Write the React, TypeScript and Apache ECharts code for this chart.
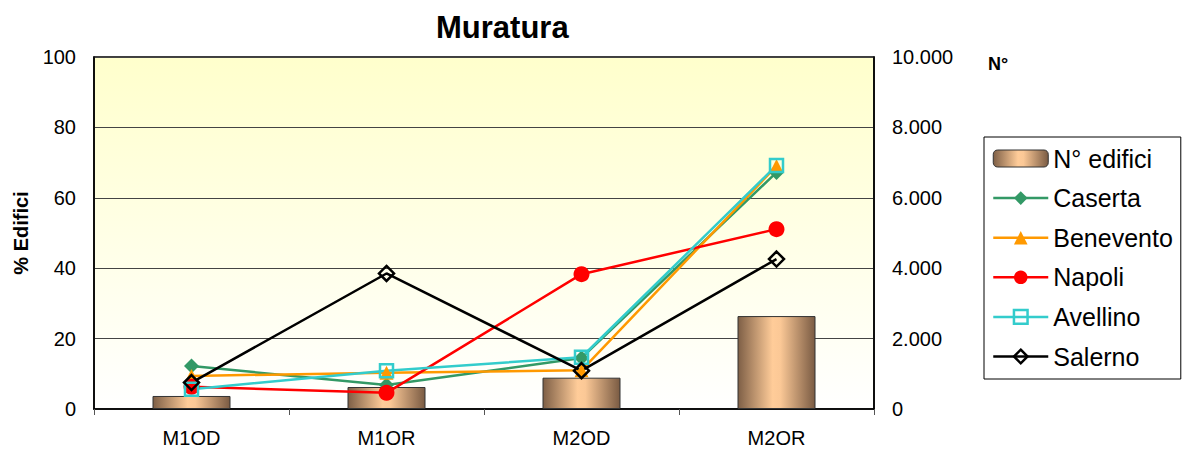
import React, { useEffect, useRef } from "react";
import * as echarts from "echarts";

const categories = ["M1OD", "M1OR", "M2OD", "M2OR"];
const nEdifici = [370, 625, 890, 2640];
const caserta = [12.2, 6.8, 14.5, 67.2];
const benevento = [9.4, 10.3, 11.0, 69.0];
const napoli = [6.3, 4.6, 38.3, 51.1];
const avellino = [5.6, 10.9, 14.7, 69.2];
const salerno = [7.5, 38.5, 10.9, 42.6];
const leftTicks = { min: 0, max: 100, interval: 20 };
const rightTicks = { min: 0, max: 10000, interval: 2000 };

const FONT = "'Liberation Sans', Arial, sans-serif";

function fmtThousands(v: number): string {
  return String(v).replace(/\B(?=(\d{3})+(?!\d))/g, ".");
}

export default function App() {
  const ref = useRef<HTMLDivElement>(null);
  useEffect(() => {
    if (!ref.current) return;
    const chart = echarts.init(ref.current, null, { renderer: "svg" });
    const lineSeries = (
      name: string,
      data: number[],
      color: string,
      symbol: string,
      size: number,
      hollow: boolean
    ) => ({
      name,
      type: "line",
      yAxisIndex: 0,
      data,
      symbol,
      symbolSize: size,
      showAllSymbol: true,
      lineStyle: { color, width: 2.5 },
      itemStyle: hollow
        ? { color: "rgba(255,255,255,0)", borderColor: color, borderWidth: 2.5 }
        : { color, borderColor: color, borderWidth: 0 },
      z: 3,
    });
    chart.setOption({
      animation: false,
      backgroundColor: "#ffffff",
      textStyle: { fontFamily: FONT },
      title: {
        text: "Muratura",
        left: 431,
        top: 7,
        textStyle: { fontFamily: FONT, fontSize: 31, fontWeight: "bold", color: "#000" },
      },
      graphic: [
        {
          type: "text",
          left: 988,
          top: 55,
          style: { text: "N°", font: `bold 18px ${FONT}`, fill: "#000" },
        },
      ],
      grid: {
        left: 94,
        top: 57,
        width: 780,
        height: 352,
        show: true,
        borderColor: "#000",
        borderWidth: 1.5,
        backgroundColor: new echarts.graphic.LinearGradient(0, 0, 0, 1, [
          { offset: 0, color: "#FFFFCC" },
          { offset: 1, color: "#FFFFFF" },
        ]),
      },
      legend: {
        orient: "vertical",
        left: 984,
        top: 137,
        padding: [9, 8, 10, 8],
        itemWidth: 55,
        itemHeight: 17,
        itemGap: 14.6,
        backgroundColor: "#fff",
        borderColor: "#000",
        borderWidth: 1,
        lineStyle: { width: 2.5 },
        itemStyle: { borderWidth: "inherit" },
        textStyle: { fontFamily: FONT, fontSize: 25, color: "#000" },
        data: ["N° edifici", "Caserta", "Benevento", "Napoli", "Avellino", "Salerno"],
      },
      xAxis: {
        type: "category",
        data: categories,
        boundaryGap: true,
        axisLine: { show: true, lineStyle: { color: "#000", width: 1.5 } },
        axisTick: { show: true, length: 6, lineStyle: { color: "#555" } },
        axisLabel: { fontFamily: FONT, fontSize: 20, color: "#000", margin: 19 },
        splitLine: { show: false },
      },
      yAxis: [
        {
          type: "value",
          ...leftTicks,
          name: "% Edifici",
          nameLocation: "middle",
          nameGap: 63,
          nameRotate: 90,
          nameTextStyle: { fontFamily: FONT, fontSize: 20, fontWeight: "bold", color: "#000" },
          axisLine: { show: true, lineStyle: { color: "#000", width: 1.5 } },
          axisTick: { show: false },
          axisLabel: { fontFamily: FONT, fontSize: 20, color: "#000", margin: 18 },
          splitLine: { show: true, lineStyle: { color: "#444", width: 1 } },
        },
        {
          type: "value",
          ...rightTicks,
          position: "right",
          axisLine: { show: true, lineStyle: { color: "#000", width: 1.5 } },
          axisTick: { show: false },
          axisLabel: {
            fontFamily: FONT,
            fontSize: 20,
            color: "#000",
            margin: 18,
            formatter: (v: number) => fmtThousands(v),
          },
          splitLine: { show: false },
        },
      ],
      series: [
        {
          name: "N° edifici",
          type: "bar",
          yAxisIndex: 1,
          data: nEdifici,
          barWidth: "40%",
          itemStyle: {
            color: new echarts.graphic.LinearGradient(0, 0, 1, 0, [
              { offset: 0, color: "#7E5F46" },
              { offset: 0.45, color: "#FFCC99" },
              { offset: 0.55, color: "#FBC896" },
              { offset: 1, color: "#7A5B43" },
            ]),
            borderColor: "#333",
            borderWidth: 1,
          },
          z: 2,
        },
        lineSeries("Caserta", caserta, "#339966", "diamond", 15, false),
        lineSeries("Benevento", benevento, "#FF9900", "triangle", 14, false),
        lineSeries("Napoli", napoli, "#FF0000", "circle", 16, false),
        lineSeries("Avellino", avellino, "#33CCCC", "rect", 13, true),
        lineSeries("Salerno", salerno, "#000000", "diamond", 15, true),
      ],
    });
    return () => chart.dispose();
  }, []);
  return (
    <div
      ref={ref}
      style={{ position: "fixed", left: 0, top: 0, width: 1182, height: 450 }}
    />
  );
}
